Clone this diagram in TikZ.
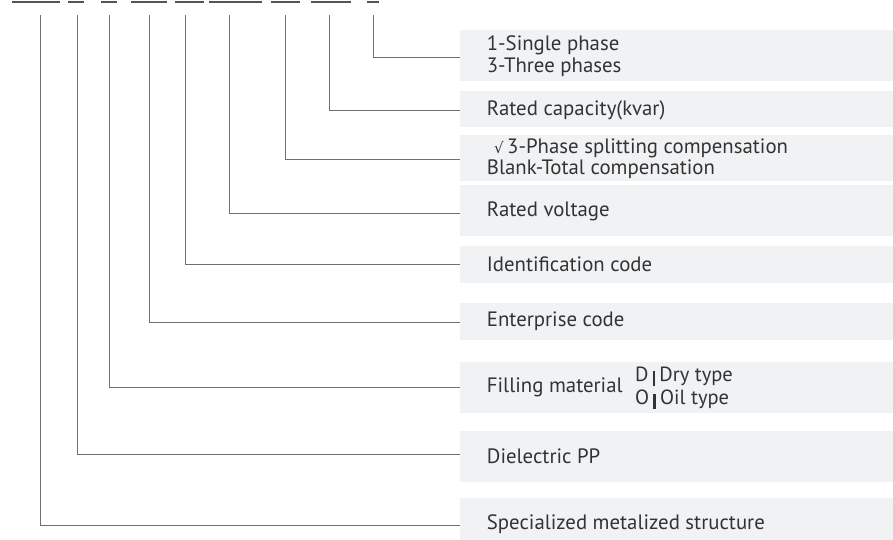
\documentclass[tikz,border=0pt]{standalone}
\usepackage{fontspec}
\setmainfont{PT Sans}
\newfontfamily\symfont{DejaVu Sans}
\definecolor{rowfill}{HTML}{F1F2F4}
\definecolor{leadcol}{HTML}{707070}
\definecolor{barcol}{HTML}{555555}
\definecolor{textcol}{HTML}{333333}
\newcommand{\sepbar}{\hspace{0.2em}\rule[-0.22em]{0.11em}{0.72em}\hspace{0.22em}}
\begin{document}
\begin{tikzpicture}[x=1pt,y=-1pt,
  codebar/.style={fill=barcol,draw=none,inner sep=0pt,minimum height=2.5pt,anchor=west},
  rowbox/.style={fill=rowfill,draw=none,inner sep=0pt,anchor=north west,minimum width=433pt},
  lead/.style={draw=leadcol,line width=0.9pt},
  txt/.style={anchor=base west,inner sep=0pt,text=textcol,font=\fontsize{20.8}{24}\selectfont},
  subtxt/.style={txt,font=\fontsize{20.5}{22}\selectfont}]
\useasboundingbox (0,0) rectangle (893,540);

% code segments of the type designation
\node[codebar,minimum width=48pt] (b1) at (12,2) {};
\node[codebar,minimum width=16pt] (b2) at (68,2) {};
\node[codebar,minimum width=16pt] (b3) at (101,2) {};
\node[codebar,minimum width=36pt] (b4) at (131,2) {};
\node[codebar,minimum width=29pt] (b5) at (175,2) {};
\node[codebar,minimum width=53pt] (b6) at (209,2) {};
\node[codebar,minimum width=29pt] (b7) at (271,2) {};
\node[codebar,minimum width=40pt] (b8) at (311,2) {};
\node[codebar,minimum width=12pt] (b9) at (367,2) {};

% start points of the leader lines
\coordinate (t1) at (40.7,15);
\coordinate (t2) at (77,15);
\coordinate (t3) at (109,15);
\coordinate (t4) at (149.7,15);
\coordinate (t5) at (185.7,15);
\coordinate (t6) at (229.3,15);
\coordinate (t7) at (285,15);
\coordinate (t8) at (329,15);
\coordinate (t9) at (373.3,15);

% description rows
\node[rowbox,minimum height=50.7pt] (r9) at (460,30) {};
\node[rowbox,minimum height=36.6pt] (r8) at (460,90.7) {};
\node[rowbox,minimum height=45.7pt] (r7) at (460,135) {};
\node[rowbox,minimum height=50.7pt] (r6) at (460,185) {};
\node[rowbox,minimum height=36.7pt] (r5) at (460,246) {};
\node[rowbox,minimum height=36.7pt] (r4) at (460,303) {};
\node[rowbox,minimum height=50.7pt] (r3) at (460,362) {};
\node[rowbox,minimum height=50.7pt] (r2) at (460,431) {};
\node[rowbox,minimum height=46pt] (r1) at (460,498) {};

% texts
\node[txt] (s9a) at (486.7,50.7) {1-Single phase};
\node[txt] (s9b) at (486.7,72.3) {3-Three phases};
\node[txt] (s8) at (486.7,116) {Rated capacity(kvar)};
\node[txt] (s7a) at (494,154) {{\symfont\fontsize{15}{18}\selectfont √}\,3-Phase splitting compensation};
\node[txt] (s7b) at (486.7,174.3) {Blank-Total compensation};
\node[txt] (s6) at (486.7,216.7) {Rated voltage};
\node[txt] (s5) at (486.7,271.7) {Identification code};
\node[txt] (s4) at (486.7,326.7) {Enterprise code};
\node[txt] (s3) at (486.7,392.7) {Filling material};
\node[subtxt] (s3a) at (635,381.3) {D\sepbar Dry type};
\node[subtxt] (s3b) at (635,404) {O\sepbar Oil type};
\node[txt] (s2) at (486.7,463.3) {Dielectric PP};
\node[txt] (s1) at (486.7,529) {Specialized metalized structure};

% leader lines
\draw[lead] (t9) |- ([yshift=-2pt]r9.west);
\draw[lead] (t8) |- ([yshift=-1.7pt]r8.west);
\draw[lead] (t7) |- ([yshift=-1.4pt]r7.west);
\draw[lead] (t6) |- ([yshift=-3pt]r6.west);
\draw[lead] (t5) |- (r5.west);
\draw[lead] (t4) |- ([yshift=-1pt]r4.west);
\draw[lead] (t3) |- (r3.west);
\draw[lead] (t2) |- ([yshift=2pt]r2.west);
\draw[lead] (t1) |- ([yshift=-4pt]r1.west);
\end{tikzpicture}
\end{document}
